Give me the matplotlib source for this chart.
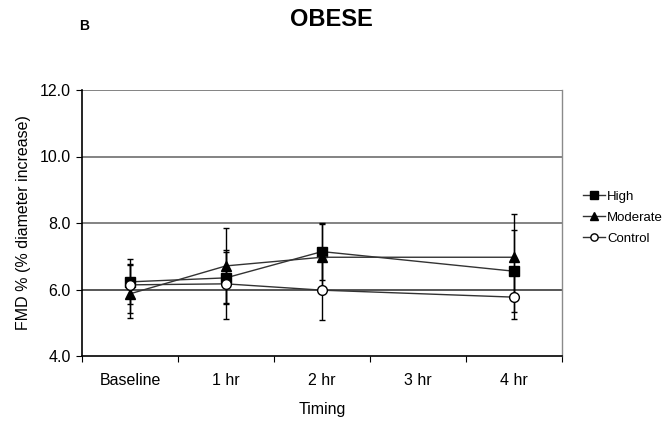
import numpy as np
import matplotlib
matplotlib.use('Agg')
import matplotlib.pyplot as plt

plt.rcParams['font.family'] = ['Liberation Sans', 'DejaVu Sans']

# Data
timing = ['Baseline', '1 hr', '2 hr', '3 hr', '4 hr']
pos_high = [0, 1, 2, 4]  # no 3 hr measurement

high = [6.23, 6.35, 7.14, 6.55]
high_up = [0.68, 0.85, 0.86, 1.23]
high_down = [0.68, 0.78, 0.86, 1.23]

moderate = [5.87, 6.71, 6.97, 6.97]
moderate_up = [0.90, 1.13, 1.00, 1.29]
moderate_down = [0.57, 1.11, 1.00, 1.29]

control = [6.14, 6.17, 5.98, 5.77]
control_up = [0.60, 0.97, 0.90, 0.67]
control_down = [1.00, 1.07, 0.90, 0.67]

fig = plt.figure(figsize=(6.64, 4.24), dpi=100)
ax = fig.add_axes([82 / 664, 1 - 356 / 424, 480 / 664, 266 / 424])

x = np.array(pos_high) + 0.5

# gridlines
for g in [6, 8, 10, 12]:
    ax.axhline(g, color='#6e6e6e' if g > 6 else '#3a3a3a', lw=1.2, zorder=1)

ekw = dict(ecolor='black', elinewidth=1, capsize=2.3, capthick=1, zorder=3)
ax.errorbar(x, high, yerr=[high_down, high_up], fmt='none', **ekw)
ax.errorbar(x, moderate, yerr=[moderate_down, moderate_up], fmt='none', **ekw)
ax.errorbar(x, control, yerr=[control_down, control_up], fmt='none', **ekw)

ax.plot(x, high, '-', color='#333333', lw=1, marker='s', ms=7,
        mfc='black', mec='black', label='High', zorder=4)
ax.plot(x, moderate, '-', color='#333333', lw=1, marker='^', ms=7,
        mfc='black', mec='black', label='Moderate', zorder=4)
ax.plot(x, control, '-', color='#333333', lw=1, marker='o', ms=7,
        mfc='white', mec='black', label='Control', zorder=5)

ax.set_xlim(0, 5)
ax.set_ylim(4, 12)
ax.set_yticks([4, 6, 8, 10, 12])
ax.set_yticklabels(['%.1f' % v for v in [4, 6, 8, 10, 12]], fontsize=11.5)
ax.set_xticks(np.arange(0, 6))
ax.set_xticklabels([])
ax.set_xticks(np.arange(5) + 0.5, minor=True)
ax.set_xticklabels(timing, minor=True, fontsize=11.5)
ax.tick_params(axis='x', which='minor', length=0, pad=12)
ax.tick_params(axis='x', which='major', length=4, direction='out')
ax.tick_params(axis='y', length=4, direction='out', pad=4)

for s in ['left', 'bottom']:
    ax.spines[s].set_color('black')
    ax.spines[s].set_linewidth(1.2)
ax.spines['top'].set_visible(False)
ax.spines['right'].set_color('#8a8a8a')
ax.spines['right'].set_linewidth(1)

ax.set_ylabel('FMD % (% diameter increase)', fontsize=11.5, labelpad=6)
ax.set_xlabel('Timing', fontsize=11.5, labelpad=10)

ax.legend(loc='center left', bbox_to_anchor=(1.02, 0.52), frameon=False,
          fontsize=9.5, markerscale=0.75, handlelength=1.6, handletextpad=0.2,
          labelspacing=0.65)

fig.text(331 / 664, 1 - 19 / 424, 'OBESE', fontsize=17, fontweight='bold',
         ha='center', va='center')
fig.text(84 / 664, 1 - 26 / 424, 'B', fontsize=10, fontweight='bold',
         ha='center', va='center')

fig.savefig('out.png', dpi=100)
